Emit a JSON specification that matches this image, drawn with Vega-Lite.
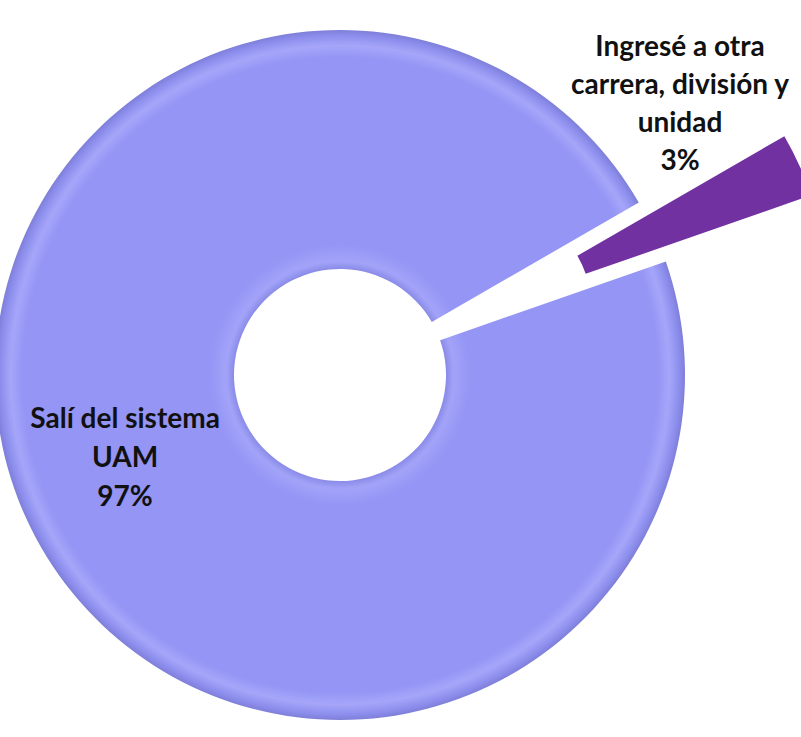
{
  "$schema": "https://vega.github.io/schema/vega-lite/v6.json",
  "width": 680,
  "height": 724,
  "autosize": {"type": "none"},
  "padding": {"left": 0, "top": 13, "right": 121, "bottom": 0},
  "background": "white",
  "config": {"view": {"stroke": null}},
  "data": {
    "values": [
      {"categoria": "Ingresé a otra carrera, división y unidad", "porcentaje": 3, "etiqueta": "Ingresé a otra\ncarrera, división y\nunidad\n3%"},
      {"categoria": "Salí del sistema UAM", "porcentaje": 97, "etiqueta": "Salí del sistema\nUAM\n97%"}
    ]
  },
  "transform": [{"stack": "porcentaje", "groupby": [], "as": ["t0", "t1"]}],
  "layer": [
    {
      "transform": [{"filter": "datum.porcentaje > 50"}],
      "mark": {
        "type": "arc",
        "radius": 345,
        "radius2": 106,
        "color": {
          "gradient": "radial",
          "x1": 0.5, "y1": 0.5, "r1": 0,
          "x2": 0.5, "y2": 0.5, "r2": 0.5,
          "stops": [
            {"offset": 0.3, "color": "#8283E2"},
            {"offset": 0.33, "color": "#A2A3F8"},
            {"offset": 0.38, "color": "#9495F5"},
            {"offset": 0.92, "color": "#9495F5"},
            {"offset": 0.955, "color": "#A5A6F9"},
            {"offset": 0.985, "color": "#8C8DEC"},
            {"offset": 1, "color": "#7E7FD8"}
          ]
        }
      },
      "encoding": {
        "theta": {"field": "t0", "type": "quantitative", "scale": {"domain": [0, 100], "range": [1.0472, 7.3304]}},
        "theta2": {"field": "t1"}
      }
    },
    {
      "transform": [{"filter": "datum.porcentaje < 50"}],
      "mark": {"type": "arc", "radius": 345, "radius2": 106, "color": "#7131A1", "xOffset": 145.6, "yOffset": -66.3},
      "encoding": {
        "theta": {"field": "t0", "type": "quantitative", "scale": {"domain": [0, 100], "range": [1.0472, 7.3304]}},
        "theta2": {"field": "t1"}
      }
    },
    {
      "transform": [{"filter": "datum.porcentaje > 50"}],
      "mark": {"type": "text", "radius": 232, "thetaOffset": 3.047, "dx": -4, "dy": -52, "lineBreak": "\n", "lineHeight": 39, "font": "Lato", "fontWeight": "bold", "fontSize": 28, "align": "center", "baseline": "middle", "color": "#111111"},
      "encoding": {
        "theta": {"field": "t0", "type": "quantitative", "scale": {"domain": [0, 100], "range": [1.0472, 7.3304]}},
        "text": {"field": "etiqueta", "type": "nominal"}
      }
    },
    {
      "transform": [{"filter": "datum.porcentaje < 50"}],
      "mark": {"type": "text", "radius": 374, "thetaOffset": 0.094, "dx": 0, "dy": -171, "lineBreak": "\n", "lineHeight": 38, "font": "Lato", "fontWeight": "bold", "fontSize": 28, "align": "center", "baseline": "middle", "color": "#111111"},
      "encoding": {
        "theta": {"field": "t0", "type": "quantitative", "scale": {"domain": [0, 100], "range": [1.0472, 7.3304]}},
        "text": {"field": "etiqueta", "type": "nominal"}
      }
    }
  ]
}
